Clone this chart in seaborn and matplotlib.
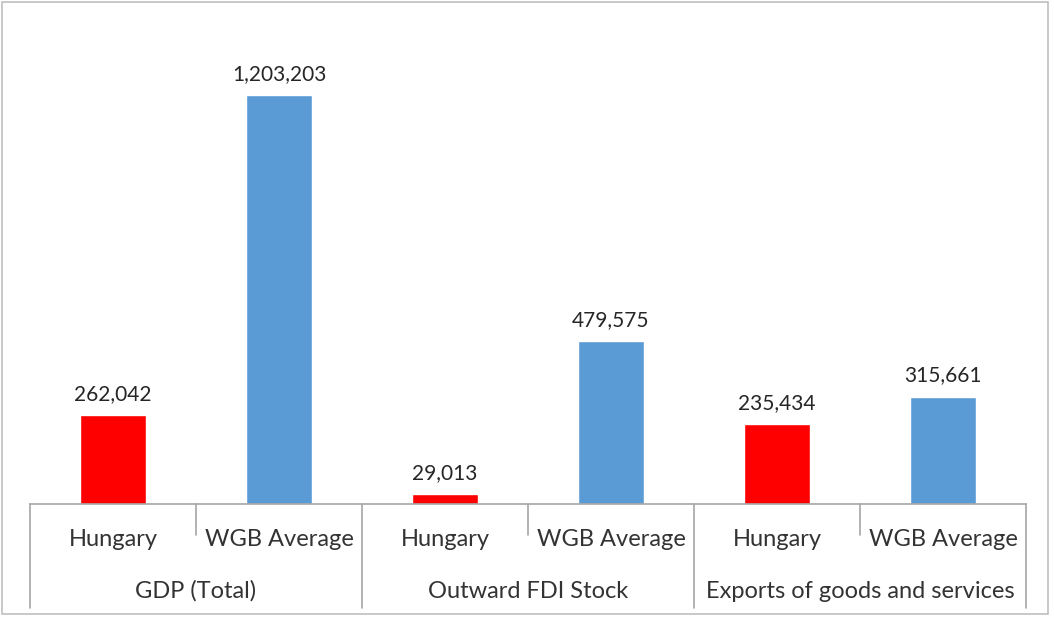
import matplotlib
matplotlib.use("Agg")
import matplotlib.pyplot as plt
import matplotlib.transforms as mtransforms
from matplotlib.patches import Rectangle
import seaborn as sns
import pandas as pd

groups = ["GDP (Total)", "Outward FDI Stock", "Exports of goods and services"]
entities = ["Hungary", "WGB Average"]
hungary_values = [262042, 29013, 235434]
wgb_values = [1203203, 479575, 315661]
colors = {"Hungary": "#FF0000", "WGB Average": "#5B9BD5"}

rows = []
for g, h, w in zip(groups, hungary_values, wgb_values):
    rows.append({"slot": f"{g}|Hungary", "group": g, "entity": "Hungary", "value": h})
    rows.append({"slot": f"{g}|WGB Average", "group": g, "entity": "WGB Average", "value": w})
df = pd.DataFrame(rows)

sns.set_theme(style="white")
plt.rcParams["font.family"] = ["Lato", "DejaVu Sans"]

W, H = 1054, 618
fig = plt.figure(figsize=(W / 100, H / 100), dpi=100)
ax_left, ax_right, ax_top, ax_bottom = 30, 1026, 28, 504
ax = fig.add_axes([ax_left / W, 1 - ax_bottom / H, (ax_right - ax_left) / W, (ax_bottom - ax_top) / H])

sns.barplot(data=df, x="slot", y="value", hue="entity", palette=colors,
            dodge=False, width=0.4, ax=ax, legend=False, saturation=1)

ax.set_xlim(-0.5, len(df) - 0.5)
ax.set_ylim(0, 1400000)
for c in ax.containers:
    ax.bar_label(c, labels=[f"{v:,.0f}" if v > 0 else "" for v in c.datavalues],
                 padding=8, fontsize=15, color="#262626")

ax.set_xticks([])
ax.set_yticks([])
ax.set_xlabel("")
ax.set_ylabel("")
for s in ["top", "left", "right"]:
    ax.spines[s].set_visible(False)
ax.spines["bottom"].set_color("#A6A6A6")
ax.spines["bottom"].set_linewidth(1.2)

trans = mtransforms.blended_transform_factory(ax.transData, fig.transFigure)
fy = lambda py: 1 - py / H
line_kw = dict(color="#A6A6A6", lw=1.2, clip_on=False, transform=trans)

n = len(df)
for i in range(n + 1):
    x = i - 0.5
    if i % 2 == 0:
        ax.plot([x, x], [fy(ax_bottom), fy(608)], **line_kw)
    else:
        ax.plot([x, x], [fy(ax_bottom), fy(535)], **line_kw)

for i, row in df.iterrows():
    ax.text(i, fy(540), row["entity"], ha="center", va="center",
            fontsize=17, color="#333333", transform=trans)
for gi, g in enumerate(groups):
    ax.text(2 * gi + 0.5, fy(591), g, ha="center", va="center",
            fontsize=17, color="#333333", transform=trans)

fig.patches.append(Rectangle((2 / W, 1 - 614 / H), (1048 - 2) / W, (614 - 2) / H,
                             transform=fig.transFigure, fill=False,
                             edgecolor="#BFBFBF", lw=1.2))

fig.savefig("out.png", dpi=100)
